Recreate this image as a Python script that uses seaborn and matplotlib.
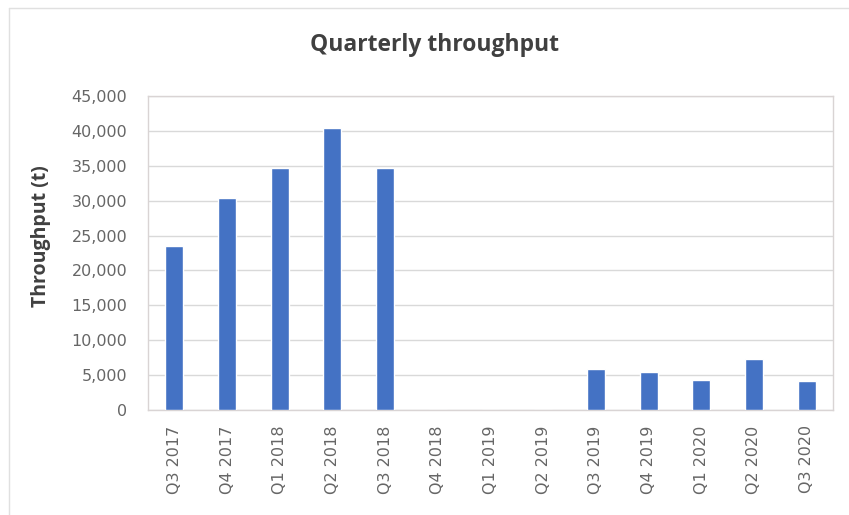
import matplotlib
matplotlib.use("Agg")
import matplotlib.pyplot as plt
import seaborn as sns
import pandas as pd
from matplotlib.ticker import FuncFormatter, MultipleLocator
from matplotlib.lines import Line2D

quarters = ["Q3 2017", "Q4 2017", "Q1 2018", "Q2 2018", "Q3 2018", "Q4 2018",
            "Q1 2019", "Q2 2019", "Q3 2019", "Q4 2019", "Q1 2020", "Q2 2020", "Q3 2020"]
throughput = [23500, 30400, 34700, 40400, 34700, 0, 0, 0, 5900, 5400, 4300, 7300, 4100]

df = pd.DataFrame({"quarter": quarters, "throughput": throughput})

sns.set_theme(style="white")
plt.rcParams['font.family'] = ['Open Sans', 'DejaVu Sans']

W, H = 849, 515
fig = plt.figure(figsize=(W / 100, H / 100), dpi=100)
fig.patch.set_facecolor("white")
ax = fig.add_axes([148 / W, 1 - 410 / H, (833 - 148) / W, (410 - 96) / H])

sns.barplot(data=df, x="quarter", y="throughput", color="#4472C4",
            saturation=1, width=0.34, ax=ax, zorder=3)

ax.set_ylim(0, 45000)
ax.yaxis.set_major_locator(MultipleLocator(5000))
ax.yaxis.set_major_formatter(FuncFormatter(lambda v, p: f"{int(v):,}"))
ax.grid(axis="y", color="#D9D9D9", linewidth=1, zorder=0)
ax.set_xlim(-0.5, len(quarters) - 0.5)

for s in ax.spines.values():
    s.set_color("#D9D4D4")
    s.set_linewidth(1)

ax.tick_params(axis="both", length=0, colors="#666666", labelsize=11.5)
ax.tick_params(axis="y", pad=15)
ax.tick_params(axis="x", pad=11)
for lab in ax.get_xticklabels() + ax.get_yticklabels():
    lab.set_fontfamily("DejaVu Sans")
plt.setp(ax.get_xticklabels(), rotation=90)

ax.set_xlabel("")
ax.set_ylabel("")
fig.text(41 / W, 1 - 236 / H, "Throughput (t)", rotation=90, ha="center", va="center",
         fontsize=14, fontweight="bold", color="#404040")
fig.text(434 / W, 1 - 45 / H, "Quarterly throughput", ha="center", va="center",
         fontsize=16.5, fontweight="bold", color="#404040")

# outer chart border (top and left edges visible)
fig.lines.append(Line2D([9 / W, 9 / W], [0, 1 - 8 / H], transform=fig.transFigure,
                        color="#E0E0E0", linewidth=1))
fig.lines.append(Line2D([9 / W, 1], [1 - 8 / H, 1 - 8 / H], transform=fig.transFigure,
                        color="#E0E0E0", linewidth=1))

fig.savefig("out.png", dpi=100)
